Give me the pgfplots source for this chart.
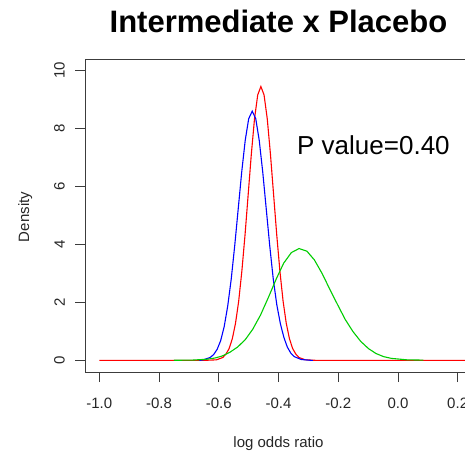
\documentclass[border=0pt]{standalone}
\usepackage{graphicx}
\usepackage{pgfplots}
\pgfplotsset{compat=1.18}
\usepackage{fontspec}
\setmainfont{Liberation Sans}
\definecolor{rgreen}{RGB}{0,205,0}
\definecolor{axgray}{RGB}{60,60,60}
\begin{document}
\begin{tikzpicture}
\begin{axis}[
  at={(85pt,80pt)}, anchor=south west,
  scale only axis, width=387pt, height=313pt,
  xmin=-1.048, xmax=0.248, ymin=-0.4, ymax=10.4,
  xtick={-1,-0.8,-0.6,-0.4,-0.2,0,0.2},
  xticklabels={-1.0,-0.8,-0.6,-0.4,-0.2,0.0,0.2},
  ytick={0,2,4,6,8,10},
  yticklabels={\rotatebox{90}{0},\rotatebox{90}{2},\rotatebox{90}{4},\rotatebox{90}{6},\rotatebox{90}{8},\rotatebox{90}{10}},
  xtick pos=left, ytick pos=left,
  tick align=outside, major tick length=10pt,
  axis line style={axgray, line width=0.9pt},
  every tick/.style={axgray, line width=0.9pt},
  tick label style={font=\fontsize{15}{18}\selectfont, text=black!85},
  xticklabel style={anchor=base, yshift=-26pt},
  yticklabel style={anchor=east, inner sep=0pt, xshift=-10pt},
  clip=true,
]
\addplot[red, line width=1.1pt] coordinates {
(-1.0,0) (-0.650,0) (-0.629,0.01) (-0.6078,0.02) (-0.5865,0.10) (-0.5759,0.22)
(-0.5653,0.41) (-0.5546,0.75) (-0.544,1.28) (-0.5334,2.04) (-0.5228,3.07)
(-0.5121,4.33) (-0.5015,5.73) (-0.4909,7.13) (-0.4803,8.34) (-0.4696,9.16)
(-0.459,9.45) (-0.4484,9.16) (-0.4377,8.34) (-0.4271,7.13) (-0.4165,5.73)
(-0.4059,4.33) (-0.3952,3.07) (-0.3846,2.04) (-0.374,1.28) (-0.3634,0.75)
(-0.3527,0.41) (-0.3421,0.22) (-0.3315,0.10) (-0.3102,0.02) (-0.289,0.01)
(-0.27,0) (0.3,0)
};
\addplot[blue, line width=1.1pt] coordinates {
(-0.665,0) (-0.6525,0.02) (-0.629,0.10) (-0.6173,0.20) (-0.6055,0.38)
(-0.5938,0.68) (-0.582,1.16) (-0.5703,1.86) (-0.5585,2.79) (-0.5468,3.94)
(-0.535,5.22) (-0.5233,6.49) (-0.5115,7.59) (-0.4998,8.34) (-0.488,8.6)
(-0.4762,8.34) (-0.4645,7.59) (-0.4527,6.49) (-0.441,5.22) (-0.4292,3.94)
(-0.4175,2.80) (-0.4057,1.92) (-0.394,1.28) (-0.3822,0.80) (-0.3705,0.46)
(-0.3587,0.25) (-0.347,0.13) (-0.3235,0.03) (-0.30,0.01) (-0.285,0)
};
\addplot[rgreen, line width=1.1pt] coordinates {
(-0.75,0.005) (-0.69,0.01) (-0.64,0.04) (-0.614,0.08) (-0.589,0.15)
(-0.563,0.28) (-0.537,0.46) (-0.511,0.72) (-0.486,1.08) (-0.460,1.57)
(-0.434,2.17) (-0.408,2.80) (-0.383,3.35) (-0.357,3.72) (-0.331,3.86)
(-0.305,3.77) (-0.280,3.47) (-0.254,3.00) (-0.228,2.45) (-0.202,1.92)
(-0.177,1.42) (-0.151,1.00) (-0.125,0.66) (-0.099,0.41) (-0.074,0.24)
(-0.048,0.13) (-0.022,0.07) (0.03,0.02) (0.085,0.01)
};
\end{axis}
\node[anchor=base, font=\fontsize{31}{36}\selectfont\bfseries] at (278.5pt,419pt) {Intermediate x Placebo};
\node[anchor=base west, font=\fontsize{26}{30}\selectfont, inner sep=0pt] at (297pt,297pt) {P value=0.40};
\node[anchor=base, rotate=90, font=\fontsize{15}{18}\selectfont, text=black!85] at (29pt,235pt) {Density};
\node[anchor=base, font=\fontsize{15}{18}\selectfont, text=black!85] at (278.5pt,5pt) {log odds ratio};
\pgfresetboundingbox
\useasboundingbox (0pt,0pt) rectangle (465pt,452pt);
\end{tikzpicture}
\end{document}
